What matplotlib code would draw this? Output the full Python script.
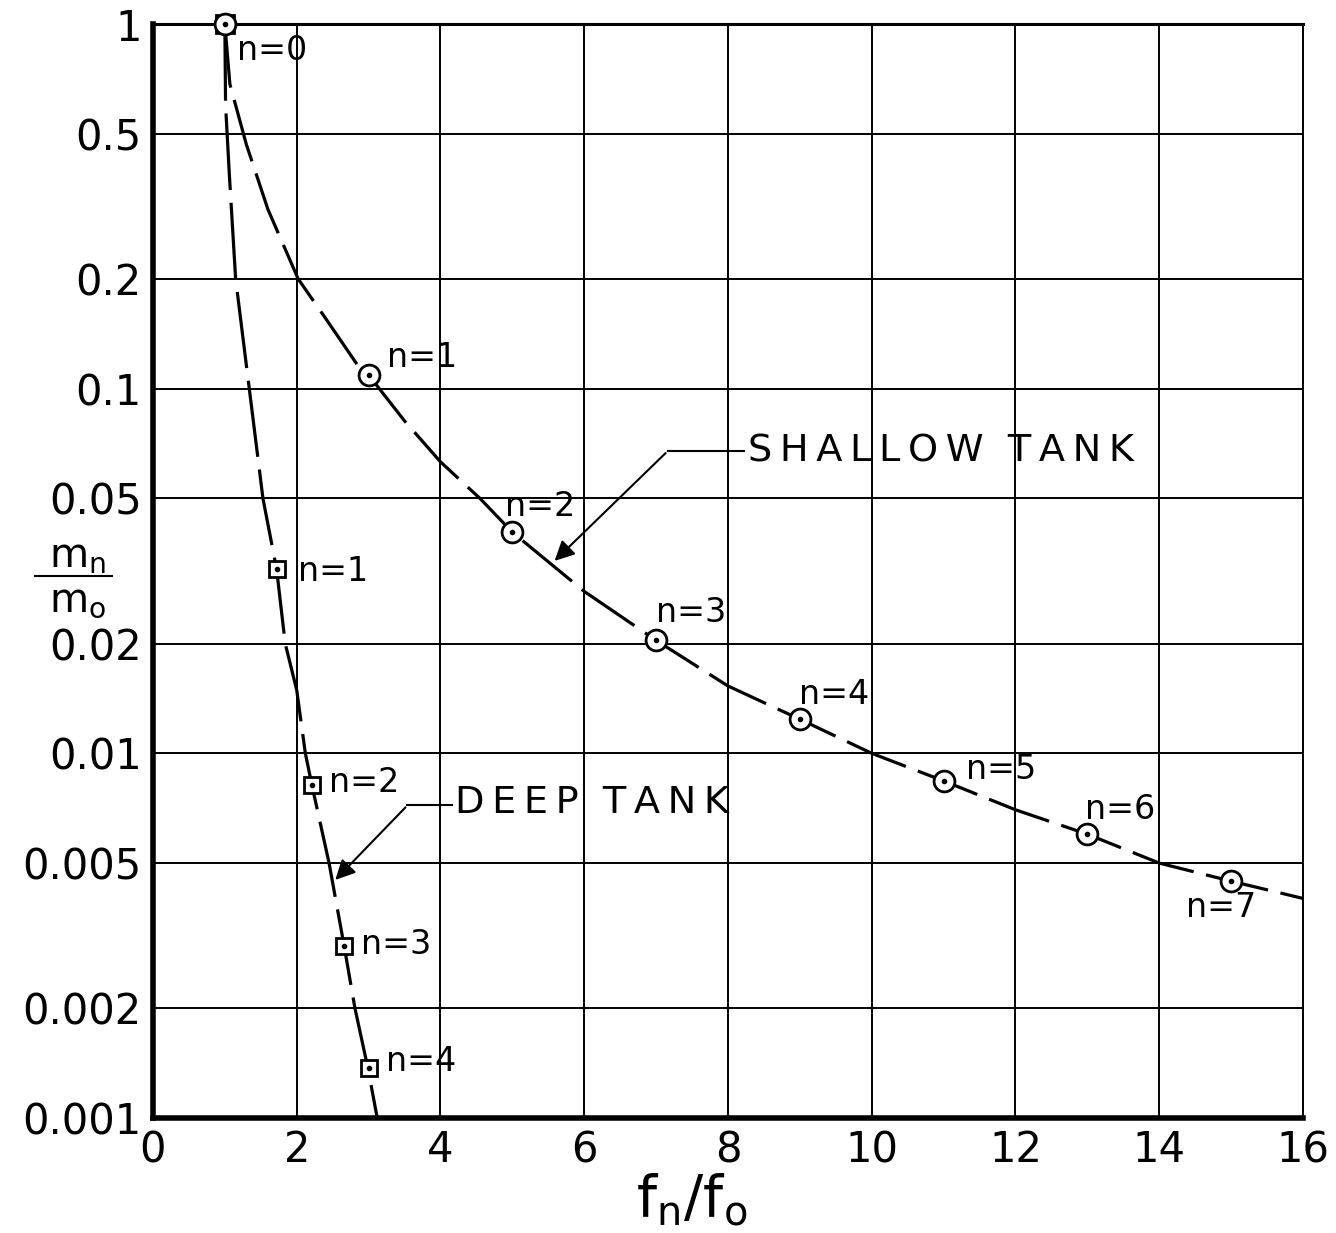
import matplotlib
matplotlib.use('Agg')
from matplotlib import pyplot as plt
from matplotlib.lines import Line2D

plt.rcParams['font.family'] = ['DejaVu Sans']
plt.rcParams['mathtext.fontset'] = 'dejavusans'

# shallow tank curve
shallow_x = [1, 1.07, 1.30, 1.60, 2.02, 2.42, 2.86, 3.0, 3.5, 4.0, 4.55, 5.0, 6.0, 7.0, 8.0, 9.0, 10.0, 11.0, 12.0, 13.0, 14.0, 15.0, 16.0]
shallow_y = [1, 0.684, 0.467, 0.31, 0.2, 0.154, 0.115, 0.109, 0.0816, 0.063, 0.05, 0.0404, 0.0278, 0.0204, 0.0153, 0.0124, 0.01, 0.0084, 0.0070, 0.0060, 0.005, 0.00446, 0.0040]
# shallow tank points n=0..7
shallow_n = [0, 1, 2, 3, 4, 5, 6, 7]
shallow_px = [1, 3, 5, 7, 9, 11, 13, 15]
shallow_py = [1, 0.109, 0.0404, 0.0204, 0.0124, 0.0084, 0.0060, 0.00446]

# deep tank curve
deep_x = [1, 1.01, 1.06, 1.15, 1.34, 1.53, 1.72, 1.84, 2.0, 2.12, 2.21, 2.45, 2.66, 2.81, 2.99, 3.12]
deep_y = [1, 0.6, 0.394, 0.2, 0.1, 0.05, 0.032, 0.02, 0.0149, 0.01, 0.0082, 0.005, 0.00296, 0.002, 0.00137, 0.001]
# deep tank points n=1..4
deep_n = [1, 2, 3, 4]
deep_px = [1.72, 2.21, 2.66, 3.0]
deep_py = [0.032, 0.0082, 0.00296, 0.00137]

x_ticks = [0, 2, 4, 6, 8, 10, 12, 14, 16]
y_ticks = [1, 0.5, 0.2, 0.1, 0.05, 0.02, 0.01, 0.005, 0.002, 0.001]
y_tick_labels = ['1', '0.5', '0.2', '0.1', '0.05', '0.02', '0.01', '0.005', '0.002', '0.001']

# label offsets in pixels (dx, dy) from each marker
shallow_off = [(12, -26), (18, 18), (-7, 26), (0, 28), (-1, 25), (22, 11), (-2, 25), (-45, -26)]
deep_off = [(21, -2), (17, 2), (17, 2), (17, 7)]

ts = '\u2009'

fig = plt.figure(figsize=(13.36, 12.33), dpi=100)
ax = fig.add_axes([0.1145, 0.0933, 0.8608, 0.8872])
ax.set_yscale('log')
ax.set_xlim(0, 16)
ax.set_ylim(0.001, 1)

ax.set_xticks(x_ticks)
ax.set_xticklabels([str(t) for t in x_ticks])
ax.set_yticks(y_ticks)
ax.set_yticklabels(y_tick_labels)
ax.minorticks_off()
ax.tick_params(axis='both', length=0, labelsize=30, pad=8)
ax.grid(True, color='black', linewidth=1.4)
ax.set_axisbelow(True)

for side in ['left', 'bottom']:
    ax.spines[side].set_linewidth(4)
ax.spines['top'].set_linewidth(2.2)
ax.spines['right'].set_linewidth(1.4)

ax.plot(shallow_x, shallow_y, color='black', lw=2.3, dashes=(20, 4), zorder=3)
ax.plot(deep_x, deep_y, color='black', lw=2.3, dashes=(24, 4), zorder=3)

# markers: square with dot for deep, circle with dot for shallow
ax.plot([1], [1], 's', ms=13, mfc='white', mec='black', mew=2, zorder=4, clip_on=False)
ax.plot(deep_px, deep_py, 's', ms=12, mfc='white', mec='black', mew=2, zorder=4)
ax.plot(shallow_px, shallow_py, 'o', ms=15, mfc='white', mec='black', mew=2, zorder=5, clip_on=False)
ax.plot(deep_px + shallow_px, deep_py + shallow_py, 'o', ms=3, color='black', zorder=6, clip_on=False)

for n, x, y, off in zip(shallow_n, shallow_px, shallow_py, shallow_off):
    ax.annotate('n=%d' % n, (x, y), xytext=off, textcoords='offset pixels',
                fontsize=24, ha='left', va='center', zorder=7)
for n, x, y, off in zip(deep_n, deep_px, deep_py, deep_off):
    ax.annotate('n=%d' % n, (x, y), xytext=off, textcoords='offset pixels',
                fontsize=24, ha='left', va='center', zorder=7)

# curve names with leader lines
ax.plot([7.16, 8.22], [0.0674, 0.0674], color='black', lw=1.5)
ax.annotate('', xy=(5.56, 0.0333), xytext=(7.16, 0.0674),
            arrowprops=dict(arrowstyle='-|>', color='black', lw=1.5, mutation_scale=30))
ax.text(8.28, 0.0674, ts.join('SHALLOW') + '  ' + ts.join('TANK'), fontsize=27.5, ha='left', va='center')

ax.plot([3.54, 4.16], [0.0072, 0.0072], color='black', lw=1.5)
ax.annotate('', xy=(2.51, 0.00444), xytext=(3.54, 0.0072),
            arrowprops=dict(arrowstyle='-|>', color='black', lw=1.5, mutation_scale=30))
ax.text(4.2, 0.0073, ts.join('DEEP') + '  ' + ts.join('TANK'), fontsize=27.5, ha='left', va='center')

# y label as a stacked fraction m_n / m_o
fig.text(0.058, 0.549, r'$\mathregular{m_n}$', fontsize=29, ha='center', va='center')
fig.text(0.058, 0.513, r'$\mathregular{m_o}$', fontsize=29, ha='center', va='center')
fig.add_artist(Line2D([0.026, 0.084], [0.533, 0.533], color='black', lw=1.5))

fig.text(0.518, 0.004, r'$\mathregular{f_n/f_o}$', fontsize=41, ha='center', va='bottom')

plt.savefig('out.png', dpi=100)
